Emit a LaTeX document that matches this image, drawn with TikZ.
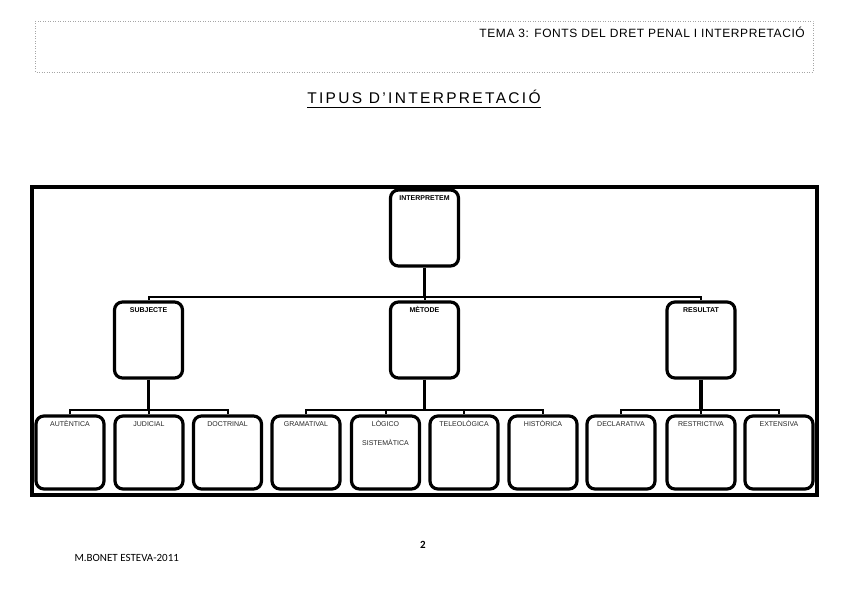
\documentclass[tikz,border=0pt]{standalone}
\usepackage{fontspec}
\setmainfont{Liberation Sans}
\newfontfamily\footfont{Carlito}
\usetikzlibrary{calc}
\begin{document}
\begin{tikzpicture}[x=1pt,y=-1pt,
  box/.style={draw, line width=3.2pt, rounded corners=8pt, minimum width=68pt, inner sep=0pt},
  topbox/.style={box, minimum height=76pt},
  leafbox/.style={box, minimum height=73pt},
  blab/.style={font=\fontsize{7}{8}\selectfont\bfseries, anchor=base, inner sep=0pt},
  llab/.style={font=\fontsize{7}{8}\selectfont, text=black!85, anchor=base, inner sep=0pt},
  conn/.style={line width=2pt},
  thickconn/.style={line width=3.2pt}]
\useasboundingbox (0,0) rectangle (848,599);
% header
\draw[gray!70, dotted, line width=0.5pt] (35,21) rectangle (813,72);
\node[anchor=base east, inner sep=0pt, font=\fontsize{12}{13}\selectfont\addfontfeature{LetterSpace=5}] (hdr) at (805,38) {TEMA 3: FONTS DEL DRET PENAL I INTERPRETACIÓ};
\node[anchor=base, font=\fontsize{15.5}{17}\selectfont\addfontfeature{LetterSpace=15}, inner sep=0pt] (title) at (424,104) {TIPUS D'INTERPRETACIÓ};
\draw[line width=0.9pt] ($(title.base west)+(0,3.5)$) -- ($(title.base east)+(0,3.5)$);
% frame
\draw[line width=3.2pt] (32,187) rectangle (817,495);
% top
\node[topbox] (I) at (424.5,228) {};
\node[blab] at ($(I.north)+(0,12)$) {INTERPRETEM};
% level 1
\foreach \n/\x/\t in {S/148.5/SUBJECTE, M/424.5/MÈTODE, R/701/RESULTAT}{
  \node[topbox] (\n) at (\x,340) {};
  \node[blab] at ($(\n.north)+(0,12)$) {\t};
}
% leaves
\foreach \n/\x/\t in {a/70/AUTÈNTICA, b/149/JUDICIAL, c/227.5/DOCTRINAL, d/306/GRAMATIVAL, e/385.5/LÒGICO, f/464/TELEOLÒGICA, g/543/HISTÒRICA, h/621/DECLARATIVA, i/701/RESTRICTIVA, j/779/EXTENSIVA}{
  \node[leafbox] (\n) at (\x,452.5) {};
  \node[llab] at ($(\n.north)+(0,12)$) {\t};
}
\node[llab] at ($(e.north)+(0,31)$) {SISTEMÀTICA};
% connectors level 0 -> 1
\coordinate (j1) at ($(I.south)+(0,29)$);
\draw[thickconn] (I.south) -- (j1);
\draw[conn] (S.north) -- (S.north |- j1) -- (R.north |- j1) -- (R.north);
\draw[conn] (j1) -- (M.north);
% connectors level 1 -> 2
\foreach \p/\l/\r/\mids in {S/a/c/{b}, M/d/g/{e,f}, R/h/j/{i}}{
  \coordinate (k\p) at ($(\p.south)+(0,30)$);
  \draw[thickconn] (\p.south) -- (k\p);
  \draw[conn] (\l.north) -- (\l.north |- k\p) -- (\r.north |- k\p) -- (\r.north);
  \foreach \m in \mids { \draw[conn] (\m.north) -- (\m.north |- k\p); }
}
% footer
\node[font=\footfont\fontsize{11}{13}\selectfont\bfseries, anchor=base] (pg) at (423,548) {2};
\node[font=\footfont\fontsize{11}{13}\selectfont, anchor=base west] (auth) at (71,561) {M.BONET ESTEVA-2011};
\end{tikzpicture}
\end{document}
